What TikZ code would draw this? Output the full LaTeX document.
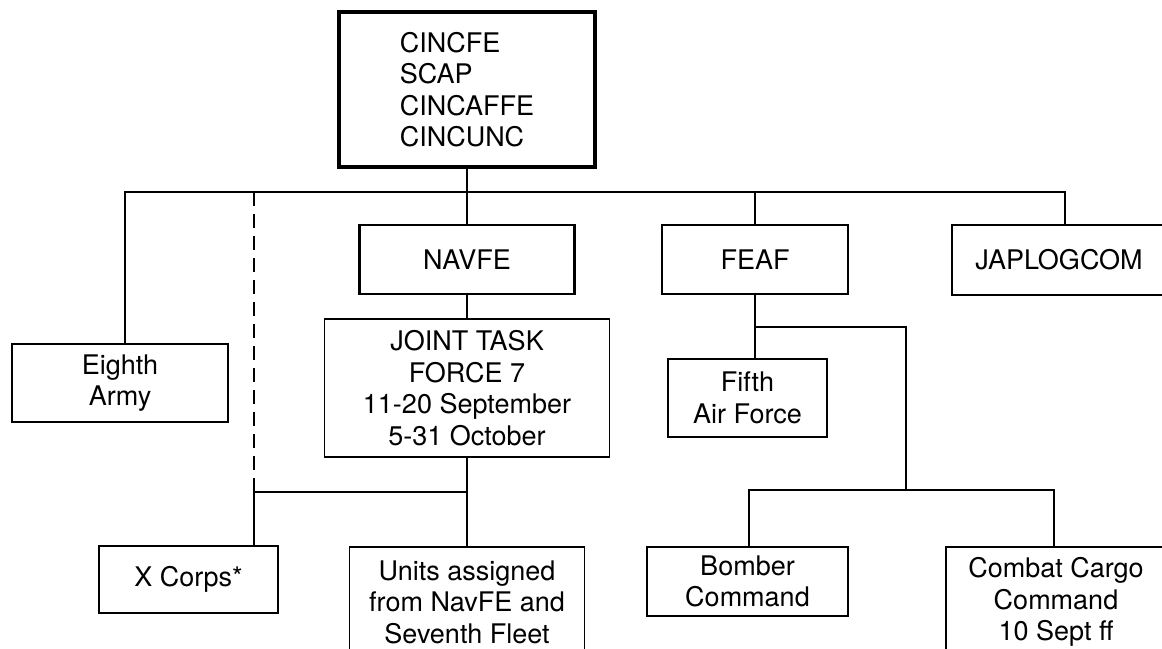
\documentclass[tikz,border=0pt]{standalone}
\usepackage{fontspec}
\setmainfont{TeX Gyre Heros}
\begin{document}
\begin{tikzpicture}[x=1pt,y=-1pt,
  box/.style={draw, rectangle, inner sep=0pt, align=center, line width=1.9pt,
    font=\fontsize{27}{31.5}\selectfont},
  conn/.style={line width=2.5pt},
  dashconn/.style={line width=2.5pt, dash pattern=on 14pt off 8pt}]
\clip (0,0) rectangle (1162,648);
\fill[white] (0,0) rectangle (1162,648);
% nodes
\node[box, line width=3.2pt, align=left, minimum width=256pt, minimum height=155pt] (cinc) at (467,89.5)
  {CINCFE\\SCAP\\CINCAFFE\\CINCUNC};
\node[box, line width=2.3pt, minimum width=215pt, minimum height=69pt] (navfe) at (467,259.5) {NAVFE};
\node[box, line width=2.9pt, minimum width=186pt, minimum height=69pt] (feaf) at (755,259.5) {FEAF};
\node[box, minimum width=214pt, minimum height=70pt] (japlog) at (1059,260) {JAPLOGCOM};
\node[box, minimum width=216pt, minimum height=78pt] (eighth) at (120,383) {Eighth\\Army};
\node[box, minimum width=285pt, minimum height=138pt] (jtf) at (467,388)
  {JOINT TASK\\FORCE 7\\11-20 September\\5-31 October};
\node[box, minimum width=159pt, minimum height=78pt] (fifth) at (747.5,398) {Fifth\\Air Force};
\node[box, minimum width=179pt, minimum height=67pt] (xcorps) at (188.5,579.5) {X Corps*};
\node[box, minimum width=235pt, minimum height=110pt] (units) at (467,602)
  {Units assigned\\from NavFE and\\Seventh Fleet};
\node[box, minimum width=201pt, minimum height=69pt] (bomber) at (747.5,581.5) {Bomber\\Command};
\node[box, minimum width=220pt, minimum height=110pt] (combat) at (1056,602)
  {Combat Cargo\\Command\\10 Sept ff};
% junction coordinates
\coordinate (bl) at (125,192);
\coordinate (br) at (1065,192);
\coordinate (dt) at (254,192);
\coordinate (dm) at (254,478);
\coordinate (db) at (254,492);
\coordinate (fb) at (906,327);
\coordinate (b3) at (906,490);
\coordinate (b3l) at (749,490);
\coordinate (b3r) at (1054,490);
% connectors
\draw[conn] (bl |- eighth.north) -- (bl) -- (br) -- (br |- japlog.north);
\draw[conn] (cinc.south) -- (navfe.north);
\draw[conn] (navfe.south) -- (jtf.north);
\draw[conn] (jtf.south) -- (units.north);
\draw[conn] (feaf.north) -- (feaf.north |- bl);
\draw[dashconn] (dt) -- (dm);
\draw[conn] (dm) -- (db) -- (db |- xcorps.north);
\draw[conn] (db) -- (jtf.south |- db);
\draw[conn] (feaf.south) -- (feaf.south |- fifth.north);
\draw[conn] (feaf.south |- fb) -- (fb) -- (b3);
\draw[conn] (b3l |- bomber.north) -- (b3l) -- (b3r) -- (b3r |- combat.north);
\end{tikzpicture}
\end{document}
